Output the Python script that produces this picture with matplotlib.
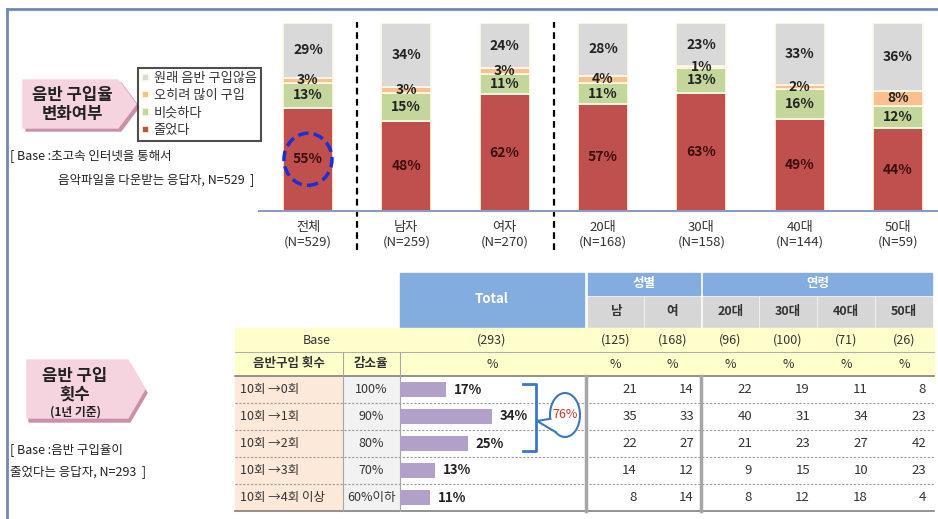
import matplotlib.pyplot as plt
from matplotlib.patches import Rectangle, Polygon, Ellipse

plt.rcParams['font.family'] = ['Noto Sans CJK KR', 'DejaVu Sans']

# =====================================================
# DATA - upper stacked chart
# =====================================================

groups = ['전체', '남자', '여자', '20대', '30대', '40대', '50대']
group_n = [529, 259, 270, 168, 158, 144, 59]

decreased = [55, 48, 62, 57, 63, 49, 44]
similar = [13, 15, 11, 11, 13, 16, 12]
bought_more = [3, 3, 3, 4, 1, 2, 8]
never_bought = [29, 34, 24, 28, 23, 33, 36]

series_names = ['줄었다', '비슷하다', '오히려 많이 구입', '원래 음반 구입않음']

# =====================================================
# DATA - lower table
# =====================================================

count_rows = ['10회 →0회', '10회 →1회', '10회 →2회', '10회 →3회', '10회 →4회 이상']
reduction = ['100%', '90%', '80%', '70%', '60%이하']
total_base = 293
total_pct = [17, 34, 25, 13, 11]

sub_cols = ['남', '여', '20대', '30대', '40대', '50대']
sub_bases = [125, 168, 96, 100, 71, 26]
sub_values = [
    [21, 35, 22, 14, 8],
    [14, 33, 27, 12, 14],
    [22, 40, 21, 9, 8],
    [19, 31, 23, 15, 12],
    [11, 34, 27, 10, 18],
    [8, 23, 42, 23, 4],
]

# =====================================================
# FIGURE + pixel overlay
# =====================================================

W, H = 938, 519
fig = plt.figure(figsize=(W / 100, H / 100), dpi=100)

ax0 = fig.add_axes([0, 0, 1, 1])
ax0.set_xlim(0, W)
ax0.set_ylim(H, 0)
ax0.axis('off')


def px_axes(x0, y0, x1, y1):
    return fig.add_axes([x0 / W, 1 - y1 / H, (x1 - x0) / W, (y1 - y0) / H])


# frame
ax0.plot([7, W], [9, 9], color='#7088b8', lw=2)
ax0.plot([7, 7], [9, H], color='#7088b8', lw=2)

# =====================================================
# side labels (pink arrows)
# =====================================================

top_pts = [(23, 80), (118, 80), (136, 104), (118, 128), (23, 128)]
ax0.add_patch(Polygon([(x + 3, y + 3) for x, y in top_pts], color='#c990aa'))
ax0.add_patch(Polygon(top_pts, color='#f5d3df'))
ax0.text(72, 95, '음반 구입율', ha='center', va='center', fontsize=12, fontweight='bold', color='#222222')
ax0.text(72, 114, '변화여부', ha='center', va='center', fontsize=12, fontweight='bold', color='#222222')

ax0.text(10, 157, '[ Base :초고속 인터넷을 통해서', ha='left', va='center', fontsize=9, color='#222222')
ax0.text(58, 180, '음악파일을 다운받는 응답자, N=529  ]', ha='left', va='center', fontsize=9, color='#222222')

bot_pts = [(27, 360), (128, 360), (145, 389), (128, 418), (27, 418)]
ax0.add_patch(Polygon([(x + 2, y + 4) for x, y in bot_pts], color='#c990aa'))
ax0.add_patch(Polygon(bot_pts, color='#f5d3df'))
ax0.text(75, 376, '음반 구입', ha='center', va='center', fontsize=12, fontweight='bold', color='#222222')
ax0.text(75, 395, '횟수', ha='center', va='center', fontsize=12, fontweight='bold', color='#222222')
ax0.text(75, 412, '(1년 기준)', ha='center', va='center', fontsize=8.5, fontweight='bold', color='#222222')

ax0.text(10, 450, '[ Base :음반 구입율이', ha='left', va='center', fontsize=9, color='#222222')
ax0.text(10, 472, '줄었다는 응답자, N=293  ]', ha='left', va='center', fontsize=9, color='#222222')

# =====================================================
# UPPER STACKED BARS
# =====================================================

ax = px_axes(259, 23, 937, 211)
ax.set_zorder(2)
ax.patch.set_visible(False)

x = list(range(len(groups)))
colors = ['#c0504d', '#c3d69b', '#fac090', '#d9d9d9']
label_colors = ['#3b0d0d', '#222222', '#222222', '#222222']

bottom = [0] * len(groups)
handles = []

for vals, name, col, lcol in zip(
    [decreased, similar, bought_more, never_bought],
    series_names,
    colors,
    label_colors
):
    bars = ax.bar(x, vals, 0.508, bottom=bottom, color=col,
                  edgecolor='#fffbe8', linewidth=1.2, label=name)
    handles.append(bars)
    for i, v in enumerate(vals):
        ax.text(i, bottom[i] + v / 2, f'{v}%', ha='center', va='center',
                fontsize=10, fontweight='bold', color=lcol, zorder=4)
    bottom = [b + v for b, v in zip(bottom, vals)]

ax.set_xlim(-0.498, 6.397)
ax.set_ylim(0, 100)
for s in ['top', 'right', 'left']:
    ax.spines[s].set_visible(False)
ax.spines['bottom'].set_color('#8a9bbd')
ax.spines['bottom'].set_linewidth(1.5)
ax.set_yticks([])
ax.set_xticks(x, [f'{g}\n(N={n})' for g, n in zip(groups, group_n)])
ax.tick_params(axis='x', length=0, pad=7, labelsize=9.5, labelcolor='#333333')
for t in ax.get_xticklabels():
    t.set_linespacing(1.2)

# group separators
for sx in [0.5, 2.5]:
    ax.plot([sx, sx], [-21, 100.5], ls=(0, (3, 2)), color='black', lw=1.6, clip_on=False)

# highlight circle on 전체
ax.add_patch(Ellipse((0, decreased[0] / 2), 0.488, 27.7, fill=False,
                     edgecolor='#1a2fd6', lw=2.5, ls=(0, (3, 1.5)), zorder=5))

leg = ax.legend(
    handles=handles[::-1],
    loc='upper left',
    bbox_to_anchor=(138 / W, 1 - 68 / H),
    bbox_transform=fig.transFigure,
    fontsize=9.5,
    frameon=True,
    fancybox=False,
    edgecolor='#222222',
    handlelength=0.5,
    handleheight=0.5,
    handletextpad=0.4,
    labelspacing=0.33,
    borderpad=0.3,
    borderaxespad=0
)
leg.get_frame().set_linewidth(1.5)
for t in leg.get_texts():
    t.set_color('#333333')

# =====================================================
# LOWER TABLE
# =====================================================

sub_left = [588, 645, 703, 760, 818, 876]
sub_right = [643, 700, 758, 816, 874, 932]
sub_center = [(a + b) / 2 for a, b in zip(sub_left, sub_right)]

# header
ax0.add_patch(Rectangle((400, 273), 184, 55, color='#83acdf'))
ax0.text(492, 299, 'Total', ha='center', va='center', fontsize=9.5, fontweight='bold', color='white')
ax0.add_patch(Rectangle((588, 273), 112, 22, color='#83acdf'))
ax0.text(644, 284, '성별', ha='center', va='center', fontsize=9, fontweight='bold', color='white')
ax0.add_patch(Rectangle((703, 273), 229, 22, color='#83acdf'))
ax0.text(817.5, 284, '연령', ha='center', va='center', fontsize=9, fontweight='bold', color='white')

for name, l, r in zip(sub_cols, sub_left, sub_right):
    ax0.add_patch(Rectangle((l, 297), r - l, 31, color='#d6d6d6'))
    ax0.text((l + r) / 2, 312, name, ha='center', va='center', fontsize=9, fontweight='bold', color='#333333')

# base + unit rows
ax0.add_patch(Rectangle((235, 328), 699, 48, color='#ffffcc'))
ax0.plot([235, 934], [352, 352], color='#b0b0b0', lw=0.8)
ax0.plot([235, 934], [376, 376], color='#808080', lw=1.2)

ax0.text(317, 340, 'Base', ha='center', va='center', fontsize=9, color='#333333')
ax0.text(492, 340, f'({total_base})', ha='center', va='center', fontsize=9, color='#333333')
ax0.text(289, 364, '음반구입 횟수', ha='center', va='center', fontsize=9, fontweight='bold', color='#333333')
ax0.text(371, 364, '감소율', ha='center', va='center', fontsize=9, fontweight='bold', color='#333333')
ax0.text(492, 364, '%', ha='center', va='center', fontsize=9, color='#333333')
for c, b in zip(sub_center, sub_bases):
    ax0.text(c, 340, f'({b})', ha='center', va='center', fontsize=9, color='#333333')
    ax0.text(c, 364, '%', ha='center', va='center', fontsize=9, color='#333333')

# data rows
row_h = 27
for i, (lab, red) in enumerate(zip(count_rows, reduction)):
    top = 376 + i * row_h
    cy = top + row_h / 2
    ax0.add_patch(Rectangle((235, top), 108, row_h, color='#fde9d9'))
    ax0.add_patch(Rectangle((343, top), 57, row_h, color='#f2f2f2'))
    ax0.text(240, cy, lab, ha='left', va='center', fontsize=9, color='#333333')
    ax0.text(371, cy, red, ha='center', va='center', fontsize=9, color='#333333')
    for j, r in enumerate(sub_right):
        ax0.text(r - 6, cy, str(sub_values[j][i]), ha='right', va='center', fontsize=9.5, color='#333333')
    if i > 0:
        ax0.plot([235, 934], [top, top], color='#9a9a9a', lw=0.8, ls=(0, (2, 1.5)))

ax0.plot([235, 934], [511, 511], color='#808080', lw=1.2)
for vx in [343, 400]:
    ax0.plot([vx, vx], [352, 511], color='#a6a6a6', lw=0.8)
for vx in [586, 701]:
    ax0.plot([vx, vx], [376, 511], color='#a6a6a6', lw=2.5)

# total column bars
axb = px_axes(400, 376, 584, 511)
axb.set_zorder(2)
axb.patch.set_visible(False)
axb.barh(range(len(total_pct)), total_pct, height=0.55, color='#b1a0c7')
for i, v in enumerate(total_pct):
    axb.text(v + 3, i, f'{v}%', ha='left', va='center', fontsize=9.5, fontweight='bold', color='#222222')
axb.set_xlim(0, 184 / 2.7)
axb.set_ylim(len(total_pct) - 0.5, -0.5)
axb.axis('off')

# bracket + callout for first three rows
ax0.plot([523, 536, 536, 523], [384, 384, 451, 451], color='#3a78c2', lw=2)
ax0.add_patch(Ellipse((565, 415), 30, 44, facecolor='white', edgecolor='#3a78c2', lw=1.5, zorder=3))
ax0.add_patch(Polygon([(550.2, 418.8), (537, 421), (555.4, 431.9), (560, 424)],
                      facecolor='white', edgecolor='none', zorder=3.5))
ax0.plot([550.2, 537, 555.4], [418.8, 421, 431.9], color='#3a78c2', lw=1.5, zorder=3.6)
ax0.text(565, 415, f'{sum(total_pct[:3])}%', ha='center', va='center', fontsize=9,
         style='italic', color='#c0392b', zorder=4)

fig.savefig('out.png', dpi=100)
